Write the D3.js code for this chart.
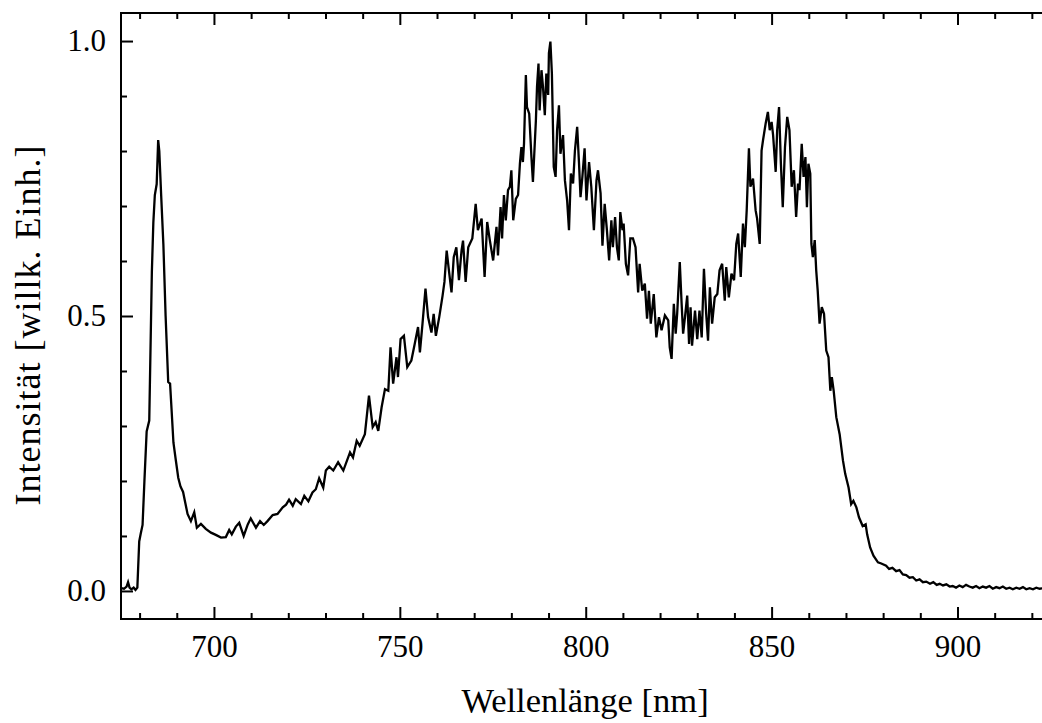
<!DOCTYPE html>
<html>
<head>
<meta charset="utf-8">
<script src="https://cdn.jsdelivr.net/npm/d3@7"></script>
<style>
  html, body { margin: 0; padding: 0; background: #fff; }
  svg { display: block; }
</style>
</head>
<body>
<div id="chart"></div>
<script>
// spectrum: wavelength (nm) and normalised intensity
var wavelength = [
  675.0, 675.8, 676.5, 676.9, 677.3, 677.8, 678.4, 678.9, 679.4, 679.9,
  680.3, 680.8, 681.3, 681.9, 682.6, 683.3, 683.7, 684.1, 684.6, 685.0,
  685.3, 685.8, 686.4, 687.0, 687.7, 688.2, 688.6, 689.1, 689.7, 690.4,
  691.0, 691.7, 692.3, 692.9, 693.8, 694.7, 695.4, 696.5, 697.8, 699.2,
  700.5, 701.9, 703.2, 704.1, 704.8, 705.9, 706.8, 708.0, 709.1, 709.9,
  711.3, 712.4, 713.4, 714.4, 715.8, 717.1, 718.5, 719.4, 720.2, 721.2,
  722.0, 723.4, 724.3, 725.4, 726.5, 727.4, 728.3, 729.4, 730.1, 731.0,
  732.1, 733.4, 734.8, 736.6, 737.4, 738.4, 739.2, 740.6, 741.7, 742.7,
  743.5, 744.2, 745.1, 746.0, 746.9, 747.5, 748.2, 749.1, 749.5, 750.2,
  751.1, 752.0, 753.1, 754.0, 754.9, 755.4, 756.1, 756.9, 757.6, 758.5,
  759.1, 759.7, 760.6, 761.5, 762.0, 762.6, 763.2, 763.9, 764.5, 765.2,
  765.9, 766.6, 767.0, 767.7, 768.4, 769.5, 770.4, 771.0, 772.0, 772.8,
  773.5, 774.2, 775.1, 776.0, 776.4, 777.1, 777.5, 778.0, 778.5, 779.1,
  779.6, 780.0, 780.5, 781.2, 781.8, 782.3, 782.7, 783.1, 783.4, 783.9,
  784.2, 784.8, 785.4, 785.8, 786.6, 786.9, 787.3, 787.6, 788.1, 788.5,
  789.0, 789.4, 789.9, 790.1, 790.5, 790.9, 791.4, 791.9, 792.3, 792.8,
  793.2, 793.9, 794.4, 795.0, 795.5, 796.0, 796.6, 797.1, 797.7, 798.2,
  798.6, 799.1, 799.7, 800.2, 800.9, 801.5, 802.2, 802.9, 803.3, 804.0,
  804.5, 805.1, 805.7, 806.3, 806.9, 807.3, 807.9, 808.4, 808.9, 809.3,
  809.9, 810.2, 810.8, 811.4, 812.0, 812.7, 813.4, 814.1, 814.5, 815.2,
  815.9, 816.5, 817.0, 817.5, 818.3, 819.0, 819.7, 820.4, 821.3, 822.2,
  822.6, 823.1, 823.7, 824.2, 824.6, 825.3, 825.8, 826.2, 826.7, 827.3,
  827.8, 828.2, 828.6, 829.4, 830.0, 830.6, 831.2, 831.8, 832.4, 832.9,
  833.4, 834.0, 834.7, 835.4, 836.0, 836.7, 837.4, 837.8, 838.5, 839.2,
  839.9, 840.5, 841.0, 841.7, 842.3, 842.8, 843.3, 843.9, 844.3, 845.0,
  845.7, 846.1, 846.8, 847.3, 847.7, 848.4, 849.0, 849.5, 850.0, 850.4,
  851.1, 851.5, 852.0, 852.5, 853.0, 853.6, 854.2, 854.8, 855.4, 856.0,
  856.6, 857.1, 857.5, 858.1, 858.6, 859.1, 859.5, 859.9, 860.4, 860.7,
  861.1, 861.6, 862.0, 862.4, 862.9, 863.5, 864.1, 864.7, 865.3, 865.8,
  866.2, 866.7, 867.4, 868.3, 869.2, 869.8, 870.7, 871.4, 872.0, 872.8,
  873.5, 874.5, 875.3, 875.7, 876.5, 877.4, 878.6, 879.5, 880.8, 881.6,
  882.5, 883.5, 884.4, 885.3, 886.2, 887.1, 888.0, 888.9, 889.8, 890.7,
  891.6, 892.6, 893.5, 894.4, 895.2, 896.1, 897.0, 897.9, 898.7, 899.6,
  900.5, 901.4, 902.3, 903.2, 904.1, 905.0, 905.9, 906.8, 907.7, 908.6,
  909.5, 910.4, 911.3, 912.2, 913.1, 914.0, 914.9, 915.8, 916.7, 917.6,
  918.5, 919.4, 920.3, 921.2, 922.1, 923.0
];
var intensity = [
  0.005, 0.004, 0.008, 0.016, 0.006, 0.003, 0.006, 0.002, 0.006, 0.090,
  0.104, 0.120, 0.200, 0.290, 0.310, 0.580, 0.670, 0.720, 0.740, 0.820,
  0.800, 0.720, 0.630, 0.500, 0.380, 0.377, 0.330, 0.270, 0.240, 0.206,
  0.190, 0.180, 0.160, 0.140, 0.127, 0.143, 0.115, 0.122, 0.113, 0.106,
  0.102, 0.097, 0.098, 0.111, 0.103, 0.117, 0.124, 0.100, 0.121, 0.132,
  0.115, 0.127, 0.120, 0.127, 0.138, 0.140, 0.152, 0.157, 0.166, 0.155,
  0.167, 0.158, 0.173, 0.163, 0.179, 0.185, 0.205, 0.188, 0.219, 0.226,
  0.219, 0.234, 0.219, 0.252, 0.243, 0.273, 0.264, 0.285, 0.355, 0.298,
  0.307, 0.291, 0.334, 0.367, 0.364, 0.443, 0.377, 0.425, 0.389, 0.458,
  0.464, 0.407, 0.419, 0.449, 0.480, 0.434, 0.486, 0.550, 0.498, 0.470,
  0.504, 0.464, 0.498, 0.537, 0.562, 0.619, 0.583, 0.543, 0.607, 0.625,
  0.565, 0.619, 0.637, 0.562, 0.625, 0.641, 0.704, 0.656, 0.677, 0.571,
  0.671, 0.638, 0.601, 0.662, 0.610, 0.698, 0.641, 0.720, 0.674, 0.729,
  0.735, 0.765, 0.674, 0.713, 0.720, 0.777, 0.807, 0.780, 0.813, 0.938,
  0.880, 0.868, 0.789, 0.744, 0.856, 0.917, 0.959, 0.874, 0.947, 0.917,
  0.865, 0.941, 0.902, 0.978, 0.999, 0.941, 0.771, 0.753, 0.838, 0.883,
  0.795, 0.829, 0.747, 0.710, 0.656, 0.759, 0.741, 0.801, 0.844, 0.777,
  0.716, 0.753, 0.805, 0.710, 0.780, 0.735, 0.656, 0.747, 0.765, 0.723,
  0.628, 0.704, 0.656, 0.601, 0.674, 0.625, 0.680, 0.625, 0.601, 0.689,
  0.656, 0.668, 0.595, 0.574, 0.641, 0.641, 0.625, 0.543, 0.595, 0.546,
  0.559, 0.495, 0.546, 0.486, 0.540, 0.461, 0.498, 0.474, 0.501, 0.492,
  0.443, 0.422, 0.522, 0.468, 0.504, 0.598, 0.522, 0.468, 0.498, 0.537,
  0.449, 0.516, 0.446, 0.510, 0.458, 0.510, 0.461, 0.586, 0.504, 0.455,
  0.552, 0.486, 0.534, 0.540, 0.583, 0.595, 0.528, 0.589, 0.534, 0.577,
  0.565, 0.631, 0.650, 0.571, 0.668, 0.625, 0.692, 0.805, 0.735, 0.750,
  0.692, 0.677, 0.631, 0.801, 0.820, 0.850, 0.871, 0.838, 0.853, 0.829,
  0.762, 0.838, 0.880, 0.777, 0.698, 0.807, 0.862, 0.838, 0.735, 0.765,
  0.680, 0.741, 0.729, 0.813, 0.753, 0.789, 0.698, 0.777, 0.759, 0.631,
  0.607, 0.638, 0.583, 0.546, 0.486, 0.516, 0.504, 0.437, 0.425, 0.364,
  0.389, 0.364, 0.316, 0.285, 0.237, 0.213, 0.188, 0.158, 0.164, 0.152,
  0.134, 0.118, 0.121, 0.103, 0.079, 0.064, 0.052, 0.050, 0.046, 0.040,
  0.042, 0.036, 0.038, 0.030, 0.029, 0.024, 0.025, 0.019, 0.021, 0.016,
  0.017, 0.013, 0.016, 0.011, 0.013, 0.010, 0.012, 0.008, 0.009, 0.006,
  0.010, 0.007, 0.011, 0.008, 0.006, 0.009, 0.005, 0.008, 0.006, 0.009,
  0.004, 0.007, 0.005, 0.008, 0.004, 0.006, 0.003, 0.006, 0.004, 0.007,
  0.003, 0.005, 0.003, 0.006, 0.004, 0.005
];

var xMajor = [700, 750, 800, 850, 900];
var xMinor = [680, 690, 710, 720, 730, 740, 760, 770, 780, 790, 810, 820, 830, 840, 860, 870, 880, 890, 910, 920];
var yMajor = [0, 0.5, 1.0];
var yMinor = [0.1, 0.2, 0.3, 0.4, 0.6, 0.7, 0.8, 0.9];
var xLabel = "Wellenlänge [nm]";
var yLabel = "Intensität [willk. Einh.]";

var width = 1042, height = 723;
var margin = { top: 13, right: -1, bottom: 104, left: 121 };
var font = "'Liberation Serif', 'DejaVu Serif', serif";

var data = wavelength.map((w, i) => ({ w: w, v: intensity[i] }));

var x = d3.scaleLinear()
    .domain([675, 923])
    .range([margin.left, width - margin.right]);
var y = d3.scaleLinear()
    .domain([-0.051, 1.051])
    .range([height - margin.bottom, margin.top]);

var plotBottom = y.range()[0], plotTop = y.range()[1];

var svg = d3.select("#chart").append("svg")
    .attr("width", width)
    .attr("height", height)
    .style("font-family", font);

// curve first, frame and ticks on top
var line = d3.line()
    .x(d => x(d.w))
    .y(d => y(d.v));

svg.append("defs").append("clipPath").attr("id", "clip")
    .append("rect")
    .attr("x", margin.left).attr("y", plotTop)
    .attr("width", width - margin.right - margin.left)
    .attr("height", plotBottom - plotTop);

svg.append("path")
    .datum(data)
    .attr("clip-path", "url(#clip)")
    .attr("fill", "none")
    .attr("stroke", "#000")
    .attr("stroke-width", 2.3)
    .attr("stroke-linejoin", "miter")
    .attr("d", line);

var styleAxis = g => {
    g.select(".domain").remove();
    g.selectAll(".tick line").attr("stroke", "#000").attr("stroke-width", 2);
    g.selectAll("text").attr("fill", "#000").style("font-size", "31px").style("font-family", font);
};

svg.append("g")
    .attr("transform", `translate(0,${plotBottom})`)
    .call(d3.axisBottom(x).tickValues(xMajor).tickSize(-12).tickPadding(16).tickFormat(d3.format("d")))
    .call(styleAxis);
svg.append("g")
    .attr("transform", `translate(0,${plotBottom})`)
    .call(d3.axisBottom(x).tickValues(xMinor).tickSize(-6).tickFormat(""))
    .call(styleAxis);
svg.append("g")
    .attr("transform", `translate(0,${plotTop})`)
    .call(d3.axisTop(x).tickValues(xMajor).tickSize(-12).tickFormat(""))
    .call(styleAxis);
svg.append("g")
    .attr("transform", `translate(0,${plotTop})`)
    .call(d3.axisTop(x).tickValues(xMinor).tickSize(-6).tickFormat(""))
    .call(styleAxis);

svg.append("g")
    .attr("transform", `translate(${margin.left},0)`)
    .call(d3.axisLeft(y).tickValues(yMajor).tickSize(-12).tickPadding(15).tickFormat(d3.format(".1f")))
    .call(styleAxis);
svg.append("g")
    .attr("transform", `translate(${margin.left},0)`)
    .call(d3.axisLeft(y).tickValues(yMinor).tickSize(-6).tickFormat(""))
    .call(styleAxis);

// frame
svg.append("rect")
    .attr("x", margin.left)
    .attr("y", plotTop)
    .attr("width", width - margin.right - margin.left)
    .attr("height", plotBottom - plotTop)
    .attr("fill", "none")
    .attr("stroke", "#000")
    .attr("stroke-width", 2);

svg.append("text")
    .attr("x", 585)
    .attr("y", 712)
    .attr("text-anchor", "middle")
    .style("font-size", "34.5px")
    .text(xLabel);

svg.append("text")
    .attr("transform", `translate(40,325) rotate(-90)`)
    .attr("text-anchor", "middle")
    .style("font-size", "36px")
    .style("letter-spacing", "1px")
    .text(yLabel);
</script>
</body>
</html>
